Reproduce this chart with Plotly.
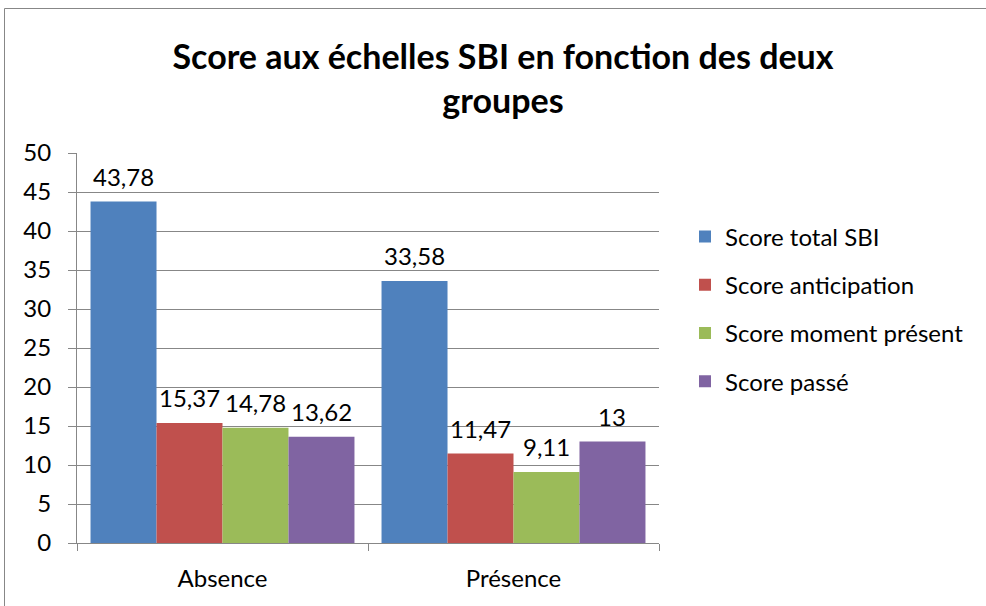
import plotly.graph_objects as go

categories = ["Absence", "Présence"]
series_names = ["Score total SBI", "Score anticipation", "Score moment présent", "Score passé"]
score_total = [43.78, 33.58]
score_anticipation = [15.37, 11.47]
score_moment = [14.78, 9.11]
score_passe = [13.62, 13.00]
y_ticks = [0, 5, 10, 15, 20, 25, 30, 35, 40, 45, 50]

series_values = [score_total, score_anticipation, score_moment, score_passe]
colors = ["#4F81BD", "#C0504D", "#9BBB59", "#8064A2"]

FONT = "Lato"
GRAY = "#878787"
FS = 24


def fmt(v):
    s = f"{v:.2f}".rstrip("0").rstrip(".")
    return s.replace(".", ",")


W, H = 986, 606
L, R, T, B = 77, 327, 153, 63
pw = W - L - R
ph = H - T - B
BARGAP = 0.093
n_series = len(series_values)
cat_px = pw / len(categories)
bar_px = cat_px * (1 - BARGAP) / n_series

fig = go.Figure()
annotations = []
for i, (name, vals, col) in enumerate(zip(series_names, series_values, colors)):
    fig.add_trace(go.Bar(
        x=categories, y=vals, name=name, legendgroup=name,
        marker=dict(color=col, line=dict(width=0)),
    ))
    for cat, v in zip(categories, vals):
        annotations.append(dict(
            x=cat, y=v, xref="x", yref="y", text=fmt(v), showarrow=False,
            xanchor="center", yanchor="bottom",
            xshift=(i - (n_series - 1) / 2) * bar_px, yshift=9,
            font=dict(family=FONT, size=FS, color="#000000"),
        ))

fig.update_layout(
    width=W, height=H,
    margin=dict(l=L, r=R, t=T, b=B),
    paper_bgcolor="white", plot_bgcolor="white",
    barmode="group", bargap=BARGAP, bargroupgap=0,
    font=dict(family=FONT, size=FS, color="#000000"),
    title=dict(
        text="Score aux échelles SBI en fonction des deux<br>groupes",
        font=dict(family=FONT, size=34, color="#000000", weight="bold"),
        x=503 / W, xanchor="center",
        y=1 - 69 / H, yanchor="top", yref="container",
    ),
    legend=dict(
        x=(685 - L) / pw, xanchor="left",
        y=(H - B - 309) / ph, yanchor="middle",
        font=dict(family=FONT, size=FS, color="#000000"),
        tracegroupgap=14, bgcolor="rgba(0,0,0,0)",
    ),
    showlegend=True,
    annotations=annotations,
    shapes=[dict(
        type="rect", xref="paper", yref="paper",
        x0=(4.5 - L) / pw, x1=(W + 10 - L) / pw,
        y0=-(B + 10) / ph, y1=(H - B - 8.5) / ph,
        line=dict(color=GRAY, width=1), fillcolor="rgba(0,0,0,0)", layer="below",
    )],
)

fig.update_yaxes(
    range=[0, 50], tickvals=y_ticks, ticktext=[str(t) for t in y_ticks],
    showgrid=True, gridcolor=GRAY, gridwidth=1,
    showline=True, linecolor=GRAY, linewidth=1,
    ticks="outside", ticklen=8, tickcolor=GRAY, tickwidth=1,
    ticklabelstandoff=12,
    tickfont=dict(family=FONT, size=FS, color="#000000"),
    zeroline=False,
)
fig.update_xaxes(
    showline=True, linecolor=GRAY, linewidth=1,
    ticks="outside", ticklen=7, tickcolor=GRAY, tickwidth=1,
    tickson="boundaries", showgrid=False,
    ticklabelstandoff=14,
    tickfont=dict(family=FONT, size=FS, color="#000000"),
)

fig.write_html("out.html", config={"displayModeBar": False},
               post_script="document.body.style.margin='0px';")
